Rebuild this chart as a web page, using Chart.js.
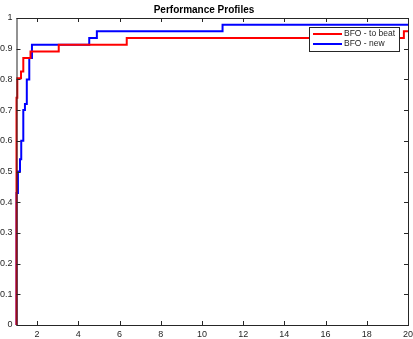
<!DOCTYPE html>
<html lang="en">
<head>
    <meta charset="UTF-8" />
    <title>Performance Profiles</title>
    <style>
        html, body { margin: 0; padding: 0; background: #fff; }
        #wrap { width: 413px; height: 339px; }
    </style>
</head>
<body>
    <div id="wrap"><canvas id="myChart"></canvas></div>

    <script src="https://cdn.jsdelivr.net/npm/chart.js"></script>
    <script>
        // performance ratio (tau) and fraction of problems
        const redX  = [1, 1, 1.04, 1.22, 1.33, 1.68, 3.05, 6.35, 19.8, 20];
        const redY  = [0, 0.74, 0.804, 0.826, 0.87, 0.891, 0.913, 0.935, 0.957, 0.957];
        const blueX = [1, 1, 1.07, 1.17, 1.23, 1.33, 1.41, 1.5, 1.62, 1.75, 4.53, 4.9, 11.0, 20];
        const blueY = [0, 0.43, 0.5, 0.54, 0.6, 0.7, 0.72, 0.8, 0.87, 0.913, 0.935, 0.957, 0.978, 0.978];
        const seriesNames = ['BFO - to beat', 'BFO - new'];
        const xTicks = [2, 4, 6, 8, 10, 12, 14, 16, 18, 20];
        const yTicks = [0, 0.1, 0.2, 0.3, 0.4, 0.5, 0.6, 0.7, 0.8, 0.9, 1];

        const axisColor = '#262626';
        const font = 'Liberation Sans, Arial, sans-serif';

        function pts(xs, ys) {
            return xs.map((x, i) => ({ x: x, y: ys[i] }));
        }

        // matlab style box with inward ticks + legend inside the axes
        const boxPlugin = {
            id: 'boxPlugin',
            afterDatasetsDraw(chart) {
                const ctx = chart.ctx;
                const a = chart.chartArea;
                const xs = chart.scales.x, ys = chart.scales.y;
                ctx.save();
                ctx.strokeStyle = axisColor;
                ctx.lineWidth = 1;
                ctx.strokeRect(a.left + 0.5, a.top + 0.5, a.right - a.left, a.bottom - a.top);
                ctx.beginPath();
                xTicks.forEach(v => {
                    const px = Math.round(xs.getPixelForValue(v)) + 0.5;
                    ctx.moveTo(px, a.bottom); ctx.lineTo(px, a.bottom - 4);
                    ctx.moveTo(px, a.top); ctx.lineTo(px, a.top + 4);
                });
                yTicks.forEach(v => {
                    const py = Math.round(ys.getPixelForValue(v)) + 0.5;
                    ctx.moveTo(a.left, py); ctx.lineTo(a.left + 4, py);
                    ctx.moveTo(a.right, py); ctx.lineTo(a.right - 4, py);
                });
                ctx.stroke();

                // legend
                const bw = 90, bh = 24;
                const bx = a.right - 9 - bw, by = a.top + 9;
                ctx.fillStyle = '#fff';
                ctx.fillRect(bx, by, bw, bh);
                ctx.strokeStyle = axisColor;
                ctx.strokeRect(bx + 0.5, by + 0.5, bw, bh);
                ctx.font = '8.5px ' + font;
                ctx.textBaseline = 'middle';
                chart.data.datasets.forEach((ds, i) => {
                    const ly = by + 7 + i * 10;
                    ctx.strokeStyle = ds.borderColor;
                    ctx.lineWidth = 2;
                    ctx.beginPath();
                    ctx.moveTo(bx + 4, ly); ctx.lineTo(bx + 33, ly);
                    ctx.stroke();
                    ctx.fillStyle = axisColor;
                    ctx.fillText(ds.label, bx + 35, ly);
                });
                ctx.restore();
            }
        };

        const config = {
            type: 'line',
            data: {
                datasets: [
                    { label: seriesNames[0], data: pts(redX, redY), borderColor: '#ff0000', borderWidth: 2, stepped: 'before', pointRadius: 0, fill: false, clip: 4 },
                    { label: seriesNames[1], data: pts(blueX, blueY), borderColor: '#0000ff', borderWidth: 2, stepped: 'before', pointRadius: 0, fill: false, clip: 4 }
                ]
            },
            options: {
                responsive: true,
                maintainAspectRatio: false,
                animation: false,
                layout: { padding: { left: 0, right: 5, top: 0, bottom: 0 } },
                plugins: {
                    legend: { display: false },
                    tooltip: { enabled: false },
                    title: {
                        display: true,
                        text: 'Performance Profiles',
                        color: '#000',
                        font: { family: font, size: 10, weight: 'bold' },
                        padding: { top: 4, bottom: 2 }
                    }
                },
                scales: {
                    x: {
                        type: 'linear', min: 1, max: 20,
                        grid: { display: false, drawTicks: false },
                        border: { display: false },
                        afterBuildTicks: s => { s.ticks = xTicks.map(v => ({ value: v })); },
                        afterFit: s => { s.height = 14; s.paddingLeft = 0; s.paddingRight = 0; },
                        ticks: { color: axisColor, padding: 4, maxRotation: 0, font: { family: font, size: 9 } }
                    },
                    y: {
                        type: 'linear', min: 0, max: 1,
                        grid: { display: false, drawTicks: false },
                        border: { display: false },
                        afterBuildTicks: s => { s.ticks = yTicks.map(v => ({ value: v })); },
                        afterFit: s => { s.width = 16.5; },
                        ticks: { color: axisColor, padding: 4, font: { family: font, size: 9 },
                                 callback: v => String(+v.toFixed(1)) }
                    }
                }
            },
            plugins: [boxPlugin]
        };

        const myChart = new Chart(document.getElementById('myChart'), config);
    </script>
</body>
</html>
